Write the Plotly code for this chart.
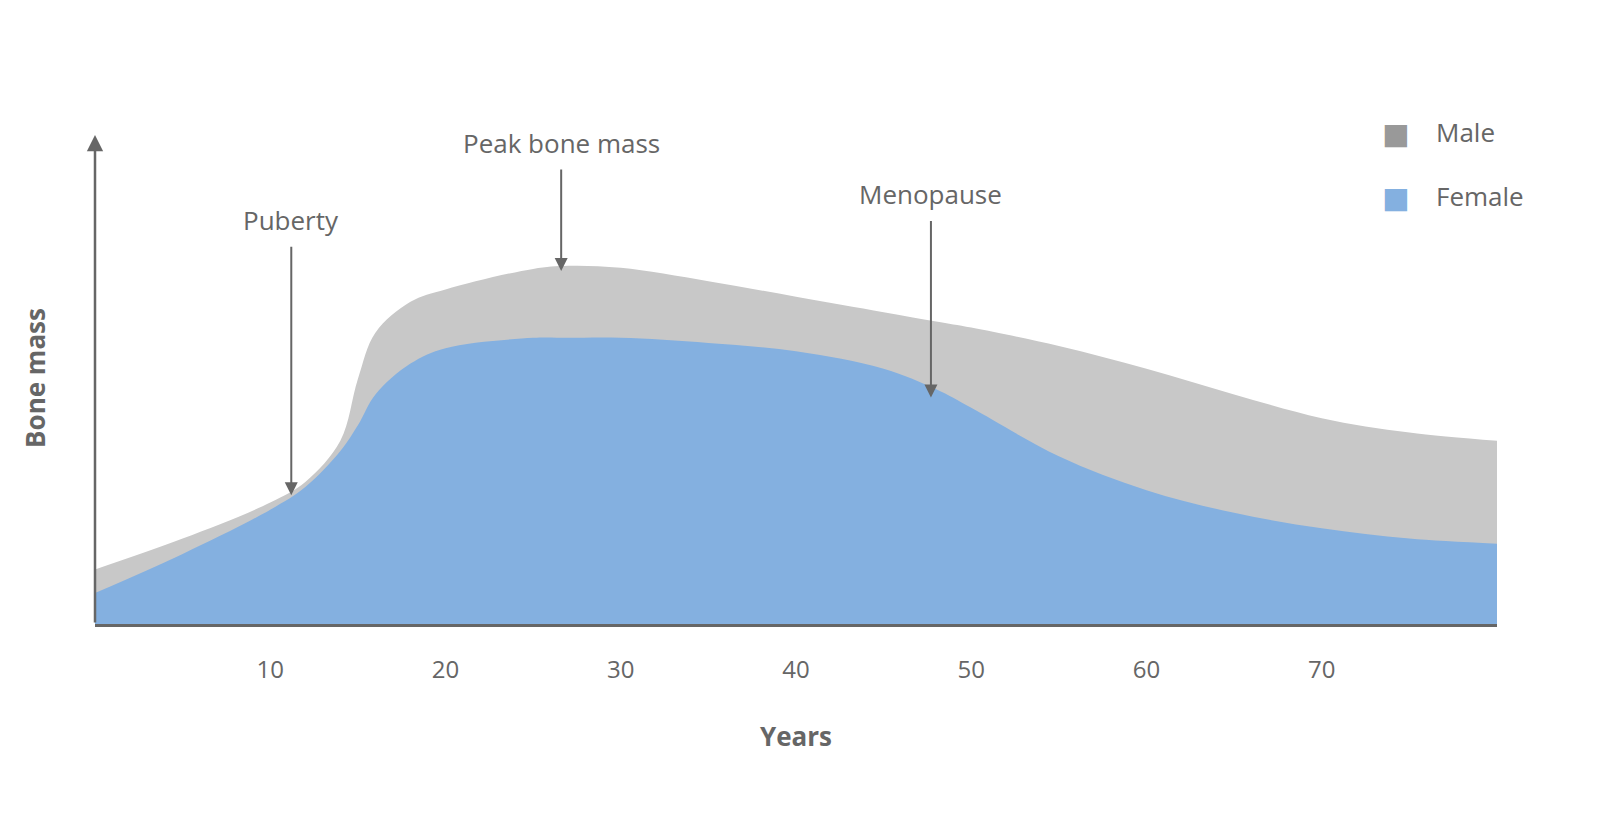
import plotly.graph_objects as go

years = [0, 5, 10, 12, 14, 15, 16, 18, 20, 25, 27, 30, 35, 40, 45, 48, 50, 55, 60, 65, 70, 75, 80]
male = [53, 83, 118, 138, 178, 238, 283, 313, 325, 345, 348, 346, 333, 318, 303, 294, 288, 270, 248, 223, 200, 186, 178]
female = [30, 68, 111, 133, 168, 193, 223, 253, 268, 278, 278, 278, 273, 265, 248, 228, 210, 163, 130, 108, 93, 83, 78]
tick_vals = [10, 20, 30, 40, 50, 60, 70]

marks = [("Puberty", 11.2, 125, 368), ("Peak bone mass", 26.6, 343, 443), ("Menopause", 47.7, 220, 393)]

grey = "#c8c8c8"
blue = "#84b0e0"
txt = "#666666"
fnt = "Liberation Sans Narrow, Open Sans, sans-serif"

fig = go.Figure()
fig.add_trace(go.Scatter(x=years, y=male, mode="lines", line=dict(color=grey, width=0, shape="spline"),
                         fill="tozeroy", fillcolor=grey, name="Male", hoverinfo="skip"))
fig.add_trace(go.Scatter(x=years, y=female, mode="lines", line=dict(color=blue, width=0, shape="spline"),
                         fill="tozeroy", fillcolor=blue, name="Female", hoverinfo="skip"))

for label, xv, head, tail in marks:
    fig.add_annotation(x=xv, y=head, ax=xv, ay=tail, axref="x", ayref="y", xref="x", yref="y",
                       showarrow=True, arrowhead=2, arrowsize=1.3, arrowwidth=2, arrowcolor=txt, text="")
    fig.add_annotation(x=xv, y=tail + 5, xref="x", yref="y", text=label, showarrow=False,
                       yanchor="bottom", font=dict(size=26, color=txt, family=fnt))

# y axis arrow
fig.add_annotation(x=0, y=475, ax=0, ay=0, axref="x", ayref="y", xref="x", yref="y",
                   showarrow=True, arrowhead=2, arrowsize=1.3, arrowwidth=2.5, arrowcolor=txt, text="")

for i, (name, col) in enumerate([("Male", "#999999"), ("Female", blue)]):
    yy = 1.0 - i * 0.13
    fig.add_annotation(x=0.928, y=yy, xref="paper", yref="paper", text="■", showarrow=False,
                       font=dict(size=46, color=col), xanchor="center", yanchor="middle")
    fig.add_annotation(x=0.955, y=yy, xref="paper", yref="paper", text=name, showarrow=False,
                       font=dict(size=26, color=txt, family=fnt), xanchor="left", yanchor="middle")

fig.update_xaxes(range=[0, 80], tickvals=tick_vals, showgrid=False, zeroline=False, showline=True,
                 linecolor=txt, linewidth=2.5, ticks="", ticklabelstandoff=22,
                 tickfont=dict(size=24, color=txt, family=fnt),
                 title=dict(text="<b>Years</b>", font=dict(size=26, color=txt, family=fnt), standoff=45))
fig.update_yaxes(range=[0, 478], showticklabels=False, showgrid=False, zeroline=False, showline=False,
                 title=dict(text="<b>Bone mass</b>", font=dict(size=26, color=txt, family=fnt), standoff=40))
fig.add_shape(type="line", x0=80, x1=80, y0=0, y1=-12, xref="x", yref="y", line=dict(color=txt, width=2.5))

fig.update_layout(width=1607, height=830, plot_bgcolor="white", paper_bgcolor="white", showlegend=False,
                  margin=dict(l=87, r=118, t=124, b=214))
fig.write_html("out.html")
